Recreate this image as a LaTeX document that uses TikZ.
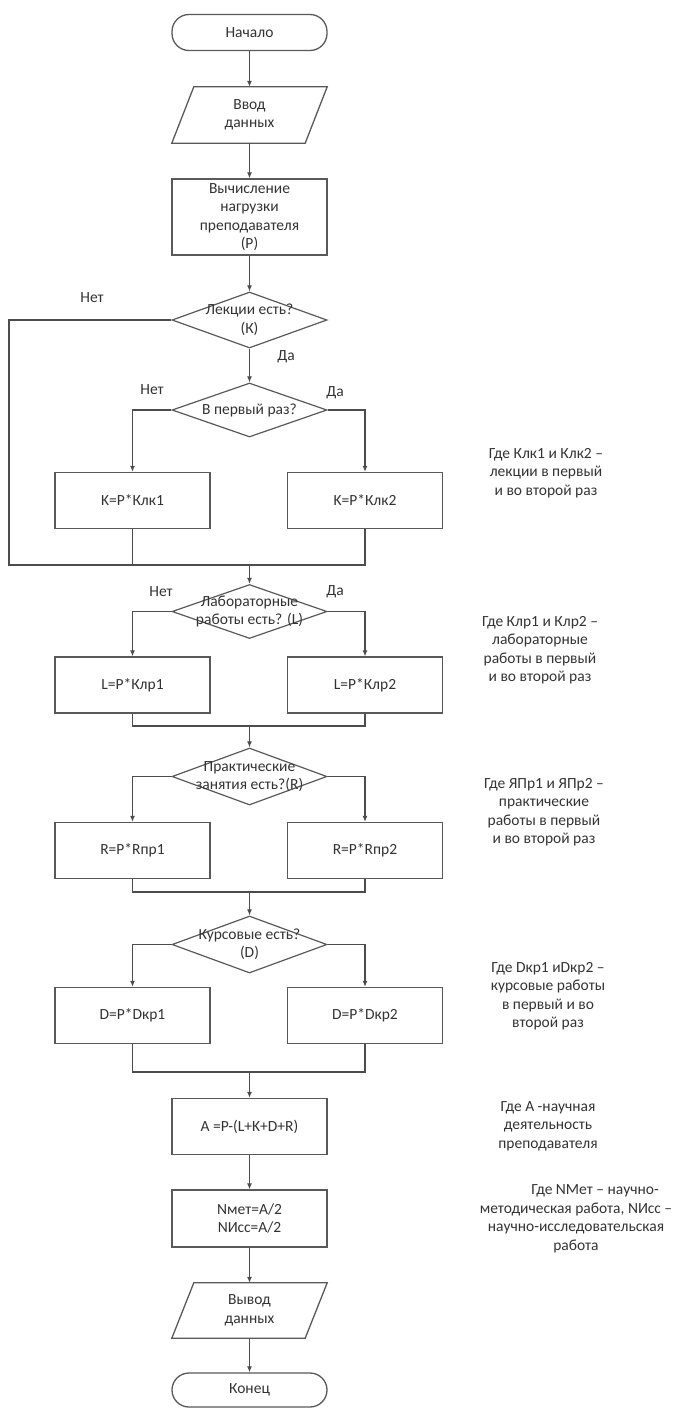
\documentclass[tikz,border=0pt]{standalone}
\usepackage{fontspec}
\setmainfont{Carlito}
\usetikzlibrary{shapes.geometric,arrows.meta}
\begin{document}
\begin{tikzpicture}[x=1pt,y=-1pt,
  every node/.style={font=\fontsize{15.5}{18.5}\selectfont, text=black!80},
  line/.style={draw=black!70, line width=1.1pt},
  arr/.style={line, -{Latex[length=6pt,width=5pt]}},
  proc/.style={draw=black!65, line width=1.3pt, fill=white, minimum width=155pt, minimum height=56pt, align=center, inner sep=2pt},
  term/.style={draw=black!65, line width=1.3pt, fill=white, rounded corners=17pt, minimum width=155pt, minimum height=36pt},
  dec/.style={diamond, draw=black!65, line width=1.2pt, fill=white, minimum width=155pt, minimum height=56pt, inner sep=0pt},
  dtext/.style={align=center, inner sep=0pt},
  io/.style={minimum width=133pt, minimum height=56pt, inner sep=0pt, align=center},
  iobox/.style={draw=black!65, line width=1.3pt, fill=white},
  note/.style={align=center, inner sep=0pt},
  yn/.style={inner sep=0pt}
]
\useasboundingbox (0,0) rectangle (691,1408);

% main column
\node[term] (start) at (249.5,32.5) {Начало};

\node[io] (in) at (249.5,115) {};
\draw[iobox] ([xshift=-11pt]in.south west) -- ([xshift=-11pt]in.south east) -- ([xshift=11pt]in.north east) -- ([xshift=11pt]in.north west) -- cycle;
\node[io] (intext) at (in) {Ввод\\данных};

\node[proc, minimum height=76pt] (p) at (249.5,217) {Вычисление\\нагрузки\\преподавателя\\(P)};

\node[dec] (d1) at (249.5,320) {};
\node[dtext] (d1t) at (d1) {Лекции есть?\\(К)};

\node[dec, minimum height=54pt] (d2) at (249.5,410) {};
\node[dtext] (d2t) at (d2) {В первый раз?};

\node[proc] (k1) at (132.5,500.5) {K=P*Клк1};
\node[proc] (k2) at (365,500.5) {K=P*Клк2};
\coordinate (m1) at (249.5,565);
\coordinate (lp1) at (9,320);
\coordinate (lp2) at (9,565);

\node[dec, minimum height=54pt] (d3) at (249.5,611.5) {};
\node[dtext] (d3t) at (d3) {Лабораторные\\работы есть? (L)};

\node[proc] (l1) at (132.5,685) {L=P*Клр1};
\node[proc] (l2) at (365,685) {L=P*Клр2};
\coordinate (m2) at (249.5,726);

\node[dec, minimum height=57pt] (d4) at (249.5,776.5) {};
\node[dtext] (d4t) at (d4) {Практические\\занятия есть?(R)};

\node[proc] (r1) at (132.5,850.5) {R=P*Rпр1};
\node[proc] (r2) at (365,850.5) {R=P*Rпр2};
\coordinate (m3) at (249.5,892);

\node[dec, minimum height=57pt] (d5) at (249.5,944.5) {};
\node[dtext] (d5t) at (d5) {Курсовые есть?\\(D)};

\node[proc] (dd1) at (132.5,1015.5) {D=P*Dкр1};
\node[proc] (dd2) at (365,1015.5) {D=P*Dкр2};
\coordinate (m4) at (249.5,1072);

\node[proc] (a) at (249.5,1126.5) {A =P-(L+K+D+R)};
\node[proc, minimum height=57pt] (n) at (249.5,1218.5) {Nмет=A/2\\NИсс=A/2};

\node[io, minimum height=55pt] (out) at (249.5,1310.5) {};
\draw[iobox] ([xshift=-11pt]out.south west) -- ([xshift=-11pt]out.south east) -- ([xshift=11pt]out.north east) -- ([xshift=11pt]out.north west) -- cycle;
\node[io] (outtext) at (out) {Вывод\\данных};

\node[term, minimum height=34pt] (end) at (249.5,1390) {Конец};

% connectors
\draw[arr] (start) -- (in);
\draw[arr] (in) -- (p);
\draw[arr] (p) -- (d1);
\draw[line] (d1.west) -- (lp1) -- (lp2) -- (m1);
\draw[arr] (d1) -- (d2);
\draw[arr] (d2.west) -| (k1.north);
\draw[arr] (d2.east) -| (k2.north);
\draw[line] (k1.south) |- (m1);
\draw[line] (k2.south) |- (m1);
\draw[arr] (m1) -- (d3);

\draw[arr] (d3.west) -| (l1.north);
\draw[arr] (d3.east) -| (l2.north);
\draw[line] (l1.south) |- (m2);
\draw[line] (l2.south) |- (m2);
\draw[arr] (m2) -- (d4);

\draw[arr] (d4.west) -| (r1.north);
\draw[arr] (d4.east) -| (r2.north);
\draw[line] (r1.south) |- (m3);
\draw[line] (r2.south) |- (m3);
\draw[arr] (m3) -- (d5);

\draw[arr] (d5.west) -| (dd1.north);
\draw[arr] (d5.east) -| (dd2.north);
\draw[line] (dd1.south) |- (m4);
\draw[line] (dd2.south) |- (m4);
\draw[arr] (m4) -- (a);
\draw[arr] (a) -- (n);
\draw[arr] (n) -- (out);
\draw[arr] (out) -- (end);

% yes / no labels
\node[yn] (y1n) at (92,298) {Нет};
\node[yn] (y1y) at (286,357) {Да};
\node[yn] (y2n) at (152,390) {Нет};
\node[yn] (y2y) at (335,393) {Да};
\node[yn] (y3n) at (161,592) {Нет};
\node[yn] (y3y) at (335,592) {Да};

% notes
\node[note] (n1) at (546,473) {Где Клк1 и Клк2 –\\лекции в первый\\и во второй раз};
\node[note] (n2) at (540,650) {Где Клр1 и Клр2 –\\лабораторные\\работы в первый\\и во второй раз};
\node[note] (n3) at (544,812) {Где ЯПр1 и ЯПр2 –\\практические\\работы в первый\\и во второй раз};
\node[note] (n4) at (548,996) {Где Dкр1 иDкр2 –\\курсовые работы\\в первый и во\\второй раз};
\node[note] (n5) at (548,1126) {Где А -научная\\деятельность\\преподавателя};
\node[note] (n6) at (576,1219) {\hspace*{38pt}Где NМет – научно-\\методическая работа, NИсс –\\научно-исследовательская\\работа};
\end{tikzpicture}
\end{document}
